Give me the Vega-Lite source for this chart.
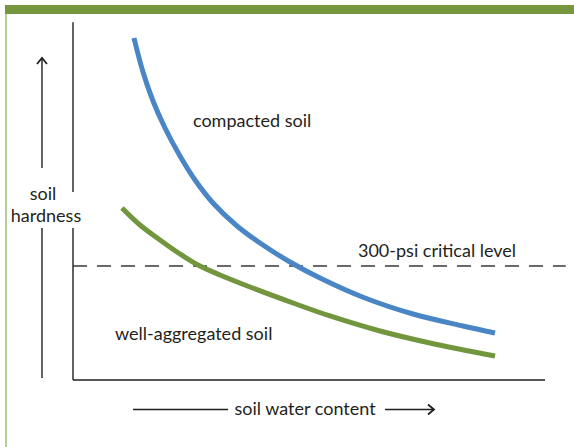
{
  "$schema": "https://vega.github.io/schema/vega-lite/v6.json",
  "width": 472,
  "height": 356,
  "autosize": "none",
  "padding": {"left": 73, "top": 24, "right": 29, "bottom": 67},
  "background": "white",
  "config": {"view": {"stroke": null}, "text": {"font": "Lato", "fontSize": 18, "color": "#231F20"}},
  "datasets": {
    "curves": [
      {"soil": "compacted soil", "water": 12.92, "hardness": 96.07},
      {"soil": "compacted soil", "water": 14.83, "hardness": 86.52},
      {"soil": "compacted soil", "water": 16.95, "hardness": 78.37},
      {"soil": "compacted soil", "water": 19.49, "hardness": 70.79},
      {"soil": "compacted soil", "water": 22.67, "hardness": 62.92},
      {"soil": "compacted soil", "water": 25.85, "hardness": 56.18},
      {"soil": "compacted soil", "water": 29.66, "hardness": 49.72},
      {"soil": "compacted soil", "water": 34.75, "hardness": 43.26},
      {"soil": "compacted soil", "water": 39.62, "hardness": 38.48},
      {"soil": "compacted soil", "water": 45.97, "hardness": 33.15},
      {"soil": "compacted soil", "water": 52.33, "hardness": 28.65},
      {"soil": "compacted soil", "water": 61.86, "hardness": 23.03},
      {"soil": "compacted soil", "water": 72.03, "hardness": 18.54},
      {"soil": "compacted soil", "water": 82.63, "hardness": 15.17},
      {"soil": "compacted soil", "water": 89.41, "hardness": 13.2},
      {"soil": "well-aggregated soil", "water": 10.38, "hardness": 48.31},
      {"soil": "well-aggregated soil", "water": 14.19, "hardness": 43.54},
      {"soil": "well-aggregated soil", "water": 18.43, "hardness": 39.33},
      {"soil": "well-aggregated soil", "water": 22.67, "hardness": 35.39},
      {"soil": "well-aggregated soil", "water": 26.48, "hardness": 32.3},
      {"soil": "well-aggregated soil", "water": 31.14, "hardness": 29.49},
      {"soil": "well-aggregated soil", "water": 37.5, "hardness": 26.12},
      {"soil": "well-aggregated soil", "water": 46.61, "hardness": 21.63},
      {"soil": "well-aggregated soil", "water": 54.45, "hardness": 17.98},
      {"soil": "well-aggregated soil", "water": 65.04, "hardness": 13.76},
      {"soil": "well-aggregated soil", "water": 75.64, "hardness": 10.39},
      {"soil": "well-aggregated soil", "water": 89.41, "hardness": 6.74}
    ],
    "axes": [
      {"x": 0, "y": 0, "x2": 100, "y2": 0},
      {"x": 0, "y": 0, "x2": 0, "y2": 42.7},
      {"x": 0, "y": 52.8, "x2": 0, "y2": 100.5},
      {"x": -6.57, "y": 59.55, "x2": -6.57, "y2": 90.45},
      {"x": -6.57, "y": 0.56, "x2": -6.57, "y2": 42.7},
      {"x": 12.71, "y": -8.3, "x2": 32.84, "y2": -8.3},
      {"x": 66.1, "y": -8.3, "x2": 76.48, "y2": -8.3}
    ],
    "critical": [{"x": 0, "x2": 104.4, "y": 32.02}],
    "heads": [
      {"dir": "up", "x": -6.57, "y": 90.45},
      {"dir": "right", "x": 76.48, "y": -8.3}
    ],
    "leftLabels": [
      {"text": "compacted soil", "x": 25.42, "y": 71.07},
      {"text": "well-aggregated soil", "x": 8.9, "y": 11.24},
      {"text": "300-psi critical level", "x": 60.38, "y": 34.55}
    ],
    "centerLabels": [
      {"text": "soil", "x": -6.36, "y": 50.56},
      {"text": "hardness", "x": -5.72, "y": 44.38},
      {"text": "soil water content", "x": 49.15, "y": -9.83}
    ],
    "frame": [
      {"part": "top", "x": -14.41, "y": 104.07, "x2": 106.14, "y2": 104.07},
      {"part": "left", "x": -14.19, "y": 102.8, "x2": -14.19, "y2": -18.82}
    ]
  },
  "layer": [
    {
      "data": {"name": "frame"},
      "mark": {"type": "rule", "clip": false},
      "encoding": {
        "x": {"field": "x", "type": "quantitative", "scale": {"domain": [0, 100], "nice": false, "zero": false}, "axis": null},
        "y": {"field": "y", "type": "quantitative", "scale": {"domain": [0, 100], "nice": false, "zero": false}, "axis": null},
        "x2": {"field": "x2"},
        "y2": {"field": "y2"},
        "color": {"field": "part", "type": "nominal", "scale": {"domain": ["top", "left"], "range": ["#77973F", "#B9CC95"]}, "legend": null},
        "strokeWidth": {"field": "part", "type": "nominal", "scale": {"domain": ["top", "left"], "range": [9, 2]}, "legend": null}
      }
    },
    {
      "data": {"name": "axes"},
      "mark": {"type": "rule", "color": "#231F20", "strokeWidth": 1.4},
      "encoding": {
        "x": {"field": "x", "type": "quantitative"},
        "y": {"field": "y", "type": "quantitative"},
        "x2": {"field": "x2"},
        "y2": {"field": "y2"}
      }
    },
    {
      "data": {"name": "critical"},
      "mark": {"type": "rule", "color": "#3a3a3a", "strokeWidth": 1.3, "strokeDash": [14, 10]},
      "encoding": {
        "x": {"field": "x", "type": "quantitative"},
        "x2": {"field": "x2"},
        "y": {"field": "y", "type": "quantitative"}
      }
    },
    {
      "data": {"name": "heads"},
      "mark": {"type": "point", "filled": false, "strokeWidth": 1.8, "color": "#231F20", "size": 100, "opacity": 1},
      "encoding": {
        "x": {"field": "x", "type": "quantitative"},
        "y": {"field": "y", "type": "quantitative"},
        "shape": {"field": "dir", "type": "nominal", "scale": {"domain": ["up", "right"], "range": ["M -1 1.2 L 0 0 L 1 1.2", "M -1.2 -1 L 0 0 L -1.2 1"]}, "legend": null}
      }
    },
    {
      "data": {"name": "curves"},
      "mark": {"type": "line", "interpolate": "catmull-rom", "strokeWidth": 5, "strokeCap": "butt"},
      "encoding": {
        "x": {"field": "water", "type": "quantitative"},
        "y": {"field": "hardness", "type": "quantitative"},
        "color": {"field": "soil", "type": "nominal", "scale": {"domain": ["compacted soil", "well-aggregated soil"], "range": ["#4A86C5", "#71963E"]}, "legend": null}
      }
    },
    {
      "data": {"name": "leftLabels"},
      "mark": {"type": "text", "baseline": "alphabetic", "align": "left"},
      "encoding": {
        "x": {"field": "x", "type": "quantitative"},
        "y": {"field": "y", "type": "quantitative"},
        "text": {"field": "text"}
      }
    },
    {
      "data": {"name": "centerLabels"},
      "mark": {"type": "text", "baseline": "alphabetic", "align": "center"},
      "encoding": {
        "x": {"field": "x", "type": "quantitative"},
        "y": {"field": "y", "type": "quantitative"},
        "text": {"field": "text"}
      }
    }
  ],
  "resolve": {"scale": {"color": "independent", "strokeWidth": "independent"}}
}
